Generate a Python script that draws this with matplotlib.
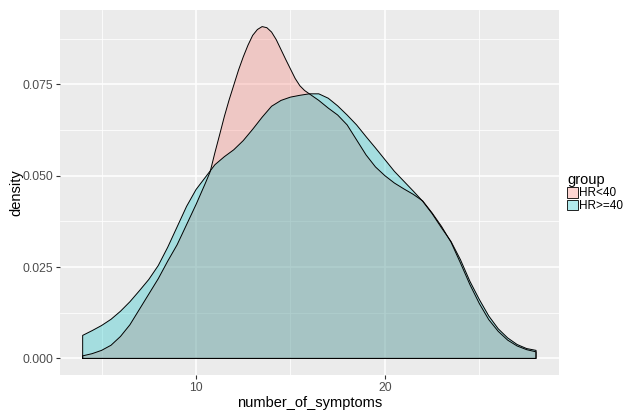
import numpy as np
import matplotlib
matplotlib.use("Agg")
import matplotlib.pyplot as plt
from matplotlib.patches import Patch
from matplotlib.ticker import MultipleLocator

plt.rcParams['font.family'] = ['Liberation Sans', 'DejaVu Sans']

# HR<40 density curve (number_of_symptoms, density)
x_lt40 = [4.0, 4.5, 5.0, 5.5, 6.0, 6.5, 7.0, 7.5, 8.0, 8.5, 9.0, 9.5,
          10.0, 10.5, 10.75, 11.0, 11.25, 11.5, 11.75, 12.0, 12.25, 12.5,
          12.75, 13.0, 13.25, 13.5, 13.75, 14.0, 14.25, 14.5, 14.75, 15.0,
          15.25, 15.5, 15.75, 16.0, 16.5, 17.0, 17.5, 18.0, 18.5, 19.0,
          19.5, 20.0, 20.5, 21.0, 21.5, 22.0, 22.5, 23.0, 23.5, 24.0,
          24.5, 25.0, 25.5, 26.0, 26.5, 27.0, 27.5, 28.0]
density_lt40 = [0.0007, 0.0013, 0.0022, 0.0036, 0.0060, 0.0092, 0.0134,
                0.0176, 0.0218, 0.0266, 0.0311, 0.0366, 0.0421, 0.0480,
                0.0511, 0.0563, 0.0612, 0.0662, 0.0707, 0.0748, 0.0789,
                0.0825, 0.0857, 0.0884, 0.0900, 0.0908, 0.0905, 0.0893,
                0.0872, 0.0845, 0.0818, 0.0792, 0.0766, 0.0746, 0.0733,
                0.0724, 0.0706, 0.0685, 0.0666, 0.0639, 0.0598, 0.0557,
                0.0524, 0.0500, 0.0480, 0.0464, 0.0449, 0.0431, 0.0398,
                0.0361, 0.0318, 0.0261, 0.0202, 0.0150, 0.0106, 0.0074,
                0.0050, 0.0034, 0.0024, 0.0018]

# HR>=40 density curve
x_ge40 = [4.0, 4.5, 5.0, 5.5, 6.0, 6.5, 7.0, 7.5, 8.0, 8.5, 9.0, 9.5,
          10.0, 10.5, 11.0, 11.5, 12.0, 12.5, 13.0, 13.5, 14.0, 14.5,
          15.0, 15.5, 16.0, 16.5, 17.0, 17.5, 18.0, 18.5, 19.0, 19.5,
          20.0, 20.5, 21.0, 21.5, 22.0, 22.5, 23.0, 23.5, 24.0, 24.5,
          25.0, 25.5, 26.0, 26.5, 27.0, 27.5, 28.0]
density_ge40 = [0.0063, 0.0076, 0.0090, 0.0107, 0.0129, 0.0155, 0.0185,
                0.0216, 0.0254, 0.0304, 0.0360, 0.0416, 0.0462, 0.0496,
                0.0530, 0.0552, 0.0571, 0.0596, 0.0627, 0.0660, 0.0690,
                0.0706, 0.0715, 0.0720, 0.0724, 0.0724, 0.0712, 0.0691,
                0.0666, 0.0639, 0.0607, 0.0576, 0.0544, 0.0512, 0.0485,
                0.0458, 0.0430, 0.0396, 0.0357, 0.0320, 0.0270, 0.0211,
                0.0161, 0.0116, 0.0081, 0.0056, 0.0038, 0.0027, 0.0022]

groups = ["HR<40", "HR>=40"]
group_colors = ["#F8766D", "#00BFC4"]
series = [(x_lt40, density_lt40), (x_ge40, density_ge40)]

x_major = [10, 20]
y_major = [0.0, 0.025, 0.050, 0.075]
y_labels = ["0.000", "0.025", "0.050", "0.075"]

fig = plt.figure(figsize=(6.26, 4.12), dpi=100)
fig.patch.set_facecolor("white")
ax = fig.add_axes([60 / 626, 37 / 412, 498.7 / 626, 365 / 412])
ax.set_facecolor("#EBEBEB")

for name, col, (xs, ys) in zip(groups, group_colors, series):
    x = np.array(xs)
    y = np.array(ys)
    px = np.concatenate([[x[0]], x, [x[-1]]])
    py = np.concatenate([[0.0], y, [0.0]])
    ax.fill(px, py, facecolor=col, alpha=0.3, edgecolor="none", zorder=3)
    ax.plot(np.append(px, px[0]), np.append(py, py[0]), color="black",
            lw=0.7, zorder=4, solid_joinstyle="round")

# scales with ggplot-like 5% expansion
xmin = min(min(x_lt40), min(x_ge40))
xmax = max(max(x_lt40), max(x_ge40))
xr = xmax - xmin
ax.set_xlim(xmin - 0.05 * xr, xmax + 0.05 * xr)
ymax = max(max(density_lt40), max(density_ge40))
ax.set_ylim(-0.05 * ymax, 1.05 * ymax)

ax.set_xticks(x_major)
ax.set_xticklabels([str(v) for v in x_major])
ax.xaxis.set_minor_locator(MultipleLocator(5))
ax.set_yticks(y_major)
ax.set_yticklabels(y_labels)
ax.yaxis.set_minor_locator(MultipleLocator(0.0125))

ax.grid(which="major", color="white", lw=1.1, zorder=0)
ax.grid(which="minor", color="white", lw=0.55, zorder=0)
ax.set_axisbelow(True)
for s in ax.spines.values():
    s.set_visible(False)
ax.tick_params(which="major", length=3.0, width=0.8, color="#333333",
               labelcolor="#4D4D4D", labelsize=8.7, pad=2)
ax.tick_params(which="minor", length=0)

ax.set_xlabel("number_of_symptoms", fontsize=10.5, labelpad=1.5)
ax.set_ylabel("density", fontsize=10.5, labelpad=-0.5)

handles = []
for c in group_colors:
    rgba = list(matplotlib.colors.to_rgba(c, 0.3))
    handles.append(Patch(facecolor=rgba, edgecolor="black", lw=0.6))
leg = ax.legend(handles, groups, title="group", loc="center left",
                bbox_to_anchor=(1.0, 0.5), frameon=False,
                fontsize=8.5, title_fontsize=10.5,
                handlelength=0.95, handleheight=0.95, handletextpad=0.1,
                labelspacing=0.02, borderaxespad=0.3, alignment="left")

fig.savefig("out.png", dpi=100)
